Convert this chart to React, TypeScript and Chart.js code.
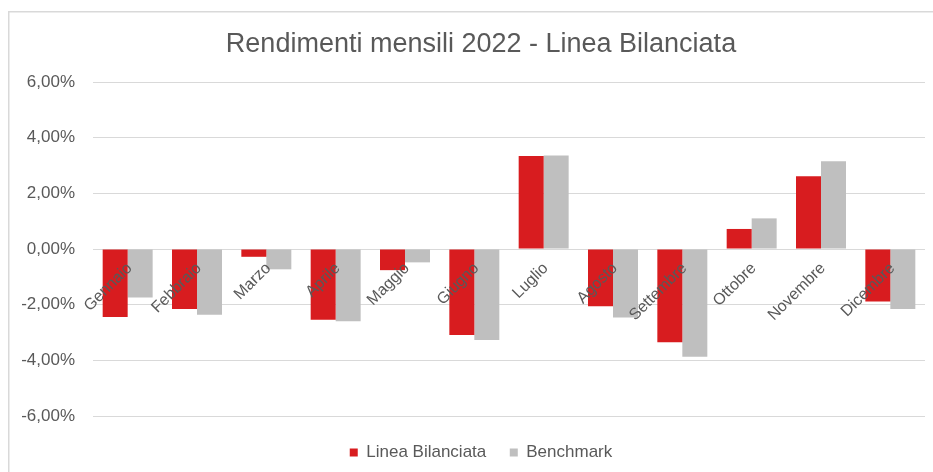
import React, { useEffect, useRef } from 'react';
import { Chart, registerables } from 'chart.js';

Chart.register(...registerables);

const months = [
  'Gennaio', 'Febbraio', 'Marzo', 'Aprile', 'Maggio', 'Giugno',
  'Luglio', 'Agosto', 'Settembre', 'Ottobre', 'Novembre', 'Dicembre',
];
const lineaBilanciata = [-2.44, -2.16, -0.28, -2.54, -0.76, -3.09, 3.34, -2.06, -3.35, 0.72, 2.61, -1.89];
const benchmark = [-1.74, -2.36, -0.73, -2.6, -0.48, -3.27, 3.36, -2.46, -3.87, 1.1, 3.15, -2.16];
const yTicks = [-6, -4, -2, 0, 2, 4, 6];

const TITLE = 'Rendimenti mensili 2022 - Linea Bilanciata';
const FONT = '"Liberation Sans", Arial, sans-serif';
const TEXT = '#595959';
const RED = '#d81c1f';
const GREY = '#bfbfbf';

const fmt = (v: number) => v.toFixed(2).replace('.', ',') + '%';

function widestYLabel(): number {
  const c = document.createElement('canvas').getContext('2d');
  if (!c) return 53;
  c.font = '17px ' + FONT;
  return Math.max(...yTicks.map((v) => c.measureText(fmt(v)).width));
}

const framePlugin = {
  id: 'frame',
  beforeDraw(chart: any) {
    const ctx = chart.ctx;
    ctx.save();
    ctx.fillStyle = '#ffffff';
    ctx.fillRect(0, 0, chart.width, chart.height);
    ctx.strokeStyle = '#d9d9d9';
    ctx.lineWidth = 1.5;
    ctx.beginPath();
    ctx.moveTo(8.75, chart.height);
    ctx.lineTo(8.75, 11.75);
    ctx.lineTo(chart.width, 11.75);
    ctx.stroke();
    ctx.restore();
  },
};

export default function App() {
  const ref = useRef<HTMLCanvasElement | null>(null);

  useEffect(() => {
    if (!ref.current) return;
    const widest = widestYLabel();
    const chart = new Chart(ref.current, {
      type: 'bar',
      data: {
        labels: months,
        datasets: [
          {
            label: 'Linea Bilanciata',
            data: lineaBilanciata,
            backgroundColor: RED,
            borderWidth: 0,
            categoryPercentage: 0.721,
            barPercentage: 1,
          },
          {
            label: 'Benchmark',
            data: benchmark,
            backgroundColor: GREY,
            borderWidth: 0,
            categoryPercentage: 0.721,
            barPercentage: 1,
          },
        ],
      },
      options: {
        responsive: false,
        animation: false,
        devicePixelRatio: 1,
        layout: { padding: { left: 37, right: 8, top: 0, bottom: 1 } },
        scales: {
          x: {
            type: 'category',
            position: { y: 0 } as any,
            offset: true,
            grid: { display: false, drawTicks: false },
            border: { display: false },
            ticks: {
              z: 1,
              autoSkip: false,
              minRotation: 45,
              maxRotation: 45,
              padding: 10,
              labelOffset: 2,
              color: TEXT,
              font: { family: FONT, size: 16 },
            },
            afterFit: (s: any) => {
              s.height = 0;
            },
          },
          y: {
            min: -6,
            max: 6,
            grid: { color: '#d9d9d9', lineWidth: 1, drawTicks: false },
            border: { display: false },
            ticks: {
              mirror: true,
              crossAlign: 'far',
              padding: -18 - widest,
              color: TEXT,
              font: { family: FONT, size: 17 },
              callback: (v: any) => fmt(Number(v)),
            },
            afterBuildTicks: (s: any) => {
              s.ticks = yTicks.map((v) => ({ value: v }));
            },
            afterFit: (s: any) => {
              s.width = 56;
            },
          },
        },
        plugins: {
          title: {
            display: true,
            text: TITLE,
            color: TEXT,
            font: { family: FONT, size: 27, weight: 'normal', lineHeight: 1.2 },
            padding: { top: 28.4, bottom: 21.2 },
          },
          legend: {
            position: 'bottom',
            title: {
              display: true,
              text: '',
              padding: { top: 3.5, bottom: 0 },
              font: { size: 1, lineHeight: 1 },
            },
            labels: {
              boxWidth: 8,
              boxHeight: 8,
              padding: 23.5,
              color: TEXT,
              font: { family: FONT, size: 17 },
            },
          },
          tooltip: { enabled: false },
        },
      },
      plugins: [framePlugin],
    } as any);
    return () => chart.destroy();
  }, []);

  return (
    <div style={{ position: 'fixed', left: 0, top: 0, width: 933, height: 472, background: '#fff' }}>
      <canvas ref={ref} width={933} height={472} style={{ display: 'block', width: 933, height: 472 }} />
    </div>
  );
}
